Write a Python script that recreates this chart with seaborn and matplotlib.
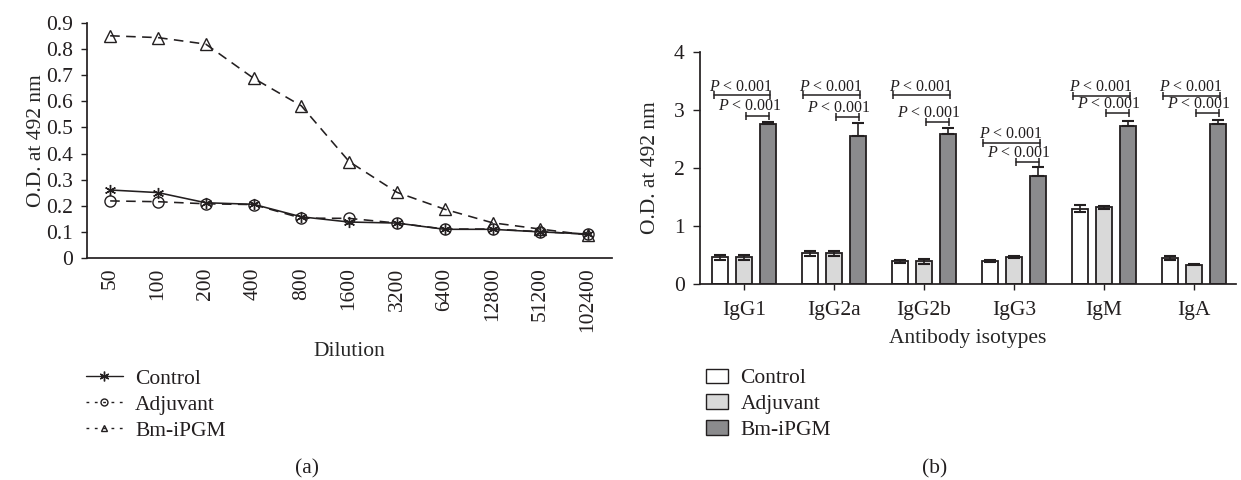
import pandas as pd
import matplotlib.pyplot as plt
import seaborn as sns
from matplotlib.lines import Line2D
from matplotlib.patches import Patch

# panel (a): titration curves
dilutions = ['50', '100', '200', '400', '800', '1600', '3200', '6400', '12800', '51200', '102400']
control_od = [0.26, 0.25, 0.211, 0.205, 0.157, 0.137, 0.133, 0.109, 0.109, 0.099, 0.091]
adjuvant_od = [0.218, 0.215, 0.207, 0.204, 0.152, 0.151, 0.133, 0.110, 0.110, 0.100, 0.090]
bm_od = [0.852, 0.845, 0.82, 0.689, 0.583, 0.369, 0.251, 0.186, 0.134, 0.110, 0.087]

# panel (b): isotypes
isotypes = ['IgG1', 'IgG2a', 'IgG2b', 'IgG3', 'IgM', 'IgA']
control_iso = [0.46, 0.53, 0.39, 0.40, 1.30, 0.45]
control_err = [0.04, 0.04, 0.02, 0.02, 0.06, 0.04]
adjuvant_iso = [0.46, 0.53, 0.39, 0.47, 1.32, 0.33]
adjuvant_err = [0.04, 0.04, 0.04, 0.02, 0.02, 0.01]
bm_iso = [2.75, 2.55, 2.58, 1.86, 2.72, 2.75]
bm_err = [0.04, 0.23, 0.10, 0.16, 0.09, 0.08]

top_bracket = [3.25, 3.25, 3.25, 2.43, 3.24, 3.24]
low_bracket = [2.90, 2.87, 2.79, 2.10, 2.94, 2.94]

groups = ['Control', 'Adjuvant', 'Bm-iPGM']
bar_colors = ['#ffffff', '#d9d9d9', '#8b8b8d']
INK = '#231f20'
FS = 15.5

sns.set_theme(style='ticks')
plt.rcParams['font.family'] = ['Liberation Serif', 'DejaVu Serif']
plt.rcParams['mathtext.fontset'] = 'custom'
plt.rcParams['mathtext.it'] = 'Liberation Serif:italic'
plt.rcParams['mathtext.rm'] = 'Liberation Serif'
plt.rcParams['axes.edgecolor'] = INK
plt.rcParams['xtick.color'] = INK
plt.rcParams['ytick.color'] = INK
plt.rcParams['text.color'] = INK

fig = plt.figure(figsize=(12.41, 4.8), dpi=100)
ax1 = fig.add_axes([0.0699, 0.4631, 0.4233, 0.4884])
ax2 = fig.add_axes([0.5641, 0.4083, 0.4319, 0.4840])

# ---- (a)
line_styles = [
    (control_od, (6, 2, 0), '-'),
    (adjuvant_od, 'o', (0, (6, 4))),
    (bm_od, '^', (0, (6, 4))),
]
for vals, mk, ls in line_styles:
    sns.lineplot(x=dilutions, y=vals, sort=False, color=INK, lw=1.15, ls=ls,
                 marker=mk, markersize=8, mfc='none', mec=INK, mew=1.0, ax=ax1)
ax1.set_xlim(-0.49, 10.5)
ax1.set_ylim(0, 0.9)
ax1.set_yticks([i / 10 for i in range(10)])
ax1.set_yticklabels(['0'] + ['0.%d' % i for i in range(1, 10)])
ax1.tick_params(axis='x', length=0, pad=7, labelrotation=90, labelsize=FS)
ax1.tick_params(axis='y', length=4, width=1, pad=6, labelsize=FS)
ax1.set_xlabel('Dilution', fontsize=FS)
ax1.xaxis.set_label_coords(0.5, -0.36)
ax1.set_ylabel('O.D. at 492 nm', fontsize=FS)
ax1.yaxis.set_label_coords(-0.077, 0.5)
sns.despine(ax=ax1)

handles_a = [
    Line2D([], [], color=INK, lw=1, marker=(6, 2, 0), ms=7, mec=INK),
    Line2D([], [], color=INK, lw=1, ls=(0, (2, 4)), marker='o', ms=5, mfc='none', mec=INK),
    Line2D([], [], color=INK, lw=1, ls=(0, (2, 4)), marker='^', ms=5, mfc='none', mec=INK),
]
fig.legend(handles_a, groups, loc='upper left', bbox_to_anchor=(0.062, 1 - 360 / 480),
           frameon=False, fontsize=FS, handlelength=1.75, handletextpad=0.55,
           labelspacing=0.28, borderaxespad=0)

# ---- (b)
df_b = pd.DataFrame({
    'isotype': isotypes * 3,
    'OD': control_iso + adjuvant_iso + bm_iso,
    'group': [g for g in groups for _ in isotypes],
})
sns.barplot(data=df_b, x='isotype', y='OD', hue='group', palette=bar_colors, errorbar=None,
            width=0.8, gap=0.33, edgecolor=INK, linewidth=1.3, legend=False, ax=ax2)

errs = [control_err, adjuvant_err, bm_err]
bar_sets = list(ax2.containers)
for k, cont in enumerate(bar_sets):
    xs = [p.get_x() + p.get_width() / 2 for p in cont]
    ys = [p.get_height() for p in cont]
    if k < 2:
        yerr = errs[k]
    else:
        yerr = [[0] * len(bm_err), bm_err]
    ax2.errorbar(xs, ys, yerr=yerr, fmt='none', ecolor=INK, elinewidth=1.2,
                 capsize=4, capthick=1.5, zorder=5)

ptxt = r'$\mathit{P}$ < 0.001'
for i in range(len(isotypes)):
    ax2.plot([i - 0.34, i + 0.29], [top_bracket[i]] * 2, color=INK, lw=1.1,
             marker='|', ms=6, mew=1.1)
    ax2.text(i - 0.03, top_bracket[i] + 0.08, ptxt, ha='center', va='baseline', fontsize=11.5)
    ax2.plot([i + 0.02, i + 0.28], [low_bracket[i]] * 2, color=INK, lw=1.1,
             marker='|', ms=6, mew=1.1)
    ax2.text(i + 0.06, low_bracket[i] + 0.09, ptxt, ha='center', va='baseline', fontsize=11.5)

ax2.set_xlim(-0.49, 5.47)
ax2.set_ylim(0, 4)
ax2.set_yticks([0, 1, 2, 3, 4])
ax2.tick_params(axis='x', length=4, width=1, pad=8, labelsize=FS)
ax2.tick_params(axis='y', length=5, width=1, pad=6, labelsize=FS)
ax2.set_xlabel('Antibody isotypes', fontsize=FS)
ax2.xaxis.set_label_coords(0.5, -0.195)
ax2.set_ylabel('O.D. at 492 nm', fontsize=FS)
ax2.yaxis.set_label_coords(-0.074, 0.5)
sns.despine(ax=ax2)

handles_b = [Patch(facecolor=c, edgecolor=INK, lw=1.0) for c in bar_colors]
fig.legend(handles_b, groups, loc='upper left', bbox_to_anchor=(0.562, 1 - 360 / 480),
           frameon=False, fontsize=FS, handlelength=1.0, handleheight=0.65,
           handletextpad=0.6, labelspacing=0.28, borderaxespad=0)

fig.text(307 / 1241, 1 - 469 / 480, '(a)', ha='center', va='center', fontsize=FS)
fig.text(935 / 1241, 1 - 469 / 480, '(b)', ha='center', va='center', fontsize=FS)

fig.savefig('out.png', dpi=100)
